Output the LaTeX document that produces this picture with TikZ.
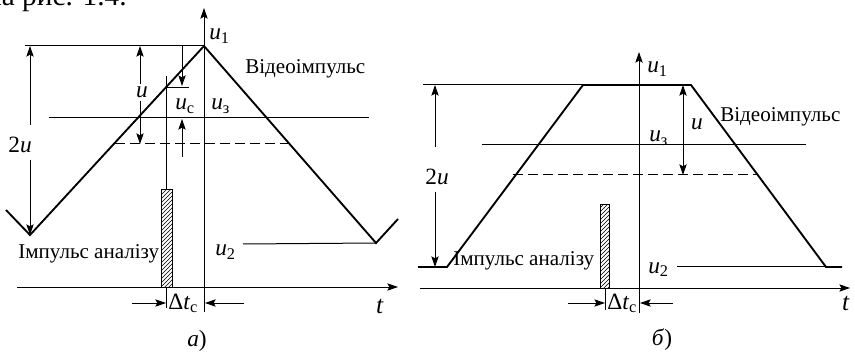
\documentclass[tikz,border=0pt]{standalone}
\usepackage{fontspec}
\setmainfont{Liberation Serif}
\usetikzlibrary{arrows.meta,patterns}
\newcommand\vr[2]{\textit{#1}\textsubscript{#2}}
\begin{document}
\begin{tikzpicture}[x=0.75pt,y=-0.75pt,
  wave/.style={line width=1.4pt,line join=miter},
  ln/.style={line width=0.75pt},
  arr/.style={ln,-{Stealth[length=8pt,width=5.5pt,inset=1.5pt]}},
  darr/.style={ln,{Stealth[length=8pt,width=5.5pt,inset=1.5pt]}-{Stealth[length=8pt,width=5.5pt,inset=1.5pt]}},
  dsh/.style={ln,dash pattern=on 7.5pt off 3.75pt},
  txt/.style={inner sep=0pt,font=\fontsize{15.8}{17}\selectfont},
  var/.style={inner sep=0pt,font=\fontsize{17.5}{19}\selectfont},
  hatch/.style={ln,pattern=north east lines}]
\useasboundingbox (0,0) rectangle (855,352);
\node[inner sep=0pt,font=\fontsize{22}{24}\selectfont,anchor=base east] (top) at (127,6) {на рис. 1.4.};

% ---------------- panel a ----------------
\coordinate (aVb) at (204,312);
\coordinate (aVt) at (204,8);
\coordinate (aHl) at (17,287);
\coordinate (aHr) at (398,287);
\draw[arr] (aVb) -- (aVt);
\draw[arr] (aHl) -- (aHr);
\coordinate (aW0) at (6,210);
\coordinate (aW1) at (30,235);
\coordinate (aW2) at (204,46);
\coordinate (aW3) at (376,243);
\coordinate (aW4) at (398,219);
\draw[wave] (aW0) -- (aW1) -- (aW2) -- (aW3) -- (aW4);
\coordinate (aTop) at (25,46);
\draw[ln] (aTop) -- (aW2);
\coordinate (aU3l) at (49,118);
\coordinate (aU3r) at (369,118);
\draw[ln] (aU3l) -- (aU3r);
\coordinate (aDl) at (115,144);
\coordinate (aDr) at (288,144);
\draw[dsh] (aDl) -- (aDr);
\coordinate (aU2l) at (243,244);
\draw[ln] (aU2l) -- (aW3);
% 2u
\node[var] (a2u) at (20,145) {2\textit{u}};
\draw[arr] (30,125) -- (30,46);
\draw[arr] (30,160) -- (30,235);
% u
\node[var] (au) at (142,92) {\textit{u}};
\draw[arr] (140,84) -- (140,46);
\draw[arr] (140,101) -- (140,144);
% u_c
\draw[arr] (182,46) -- (182,86);
\draw[ln] (166,88) -- (189,88);
\draw[arr] (182,157) -- (182,119);
\node[var,anchor=base west] (auc) at (175,110) {\vr{u}{c}};
% analysis pulse
\draw[hatch] (161,190) rectangle (172,287);
\draw[ln] (166,76) -- (166,190);
% delta t
\draw[ln] (166,287) -- (166,308);
\draw[arr] (132,303) -- (166,303);
\draw[arr] (244,303) -- (205,303);
\node[var,anchor=base west] (adt) at (168,309) {Δ\textit{t}\textsubscript{c}};
% labels
\node[var,anchor=base west] (au1) at (209,40) {\vr{u}{1}};
\node[var,anchor=base west] (au3) at (211,110) {\vr{u}{з}};
\node[var,anchor=base west] (au2) at (215,256) {\vr{u}{2}};
\node[txt,anchor=base west] (avid) at (245,74) {Відеоімпульс};
\node[txt,anchor=base west] (aimp) at (18,258) {Імпульс аналізу};
\node[inner sep=0pt,font=\fontsize{19}{21}\selectfont] (at) at (380,306) {\textit{t}};
\node[var,anchor=base] (acap) at (197,346) {\textit{а})};

% ---------------- panel b ----------------
\coordinate (bVb) at (639,313);
\coordinate (bVt) at (639,52);
\coordinate (bHl) at (420,288);
\coordinate (bHr) at (850,288);
\draw[arr] (bVb) -- (bVt);
\draw[arr] (bHl) -- (bHr);
\coordinate (bW0) at (418,267);
\coordinate (bW1) at (447,267);
\coordinate (bW2) at (583,85);
\coordinate (bW3) at (691,85);
\coordinate (bW4) at (826,267);
\coordinate (bW5) at (842,267);
\draw[wave] (bW0) -- (bW1) -- (bW2) -- (bW3) -- (bW4) -- (bW5);
\coordinate (bTop) at (423,85);
\draw[ln] (bTop) -- (bW2);
\coordinate (bU3l) at (482,145);
\coordinate (bU3r) at (806,145);
\draw[ln] (bU3l) -- (bU3r);
\coordinate (bDl) at (513,175);
\coordinate (bDr) at (758,175);
\draw[dsh] (bDl) -- (bDr);
\coordinate (bU2l) at (677,267);
\draw[ln] (bU2l) -- (bW4);
% 2u
\node[var] (b2u) at (437,177) {2\textit{u}};
\draw[arr] (435,147) -- (435,85);
\draw[arr] (435,192) -- (435,267);
% u
\draw[darr] (683,85) -- (683,175);
\node[var] (bu) at (697,124) {\textit{u}};
% analysis pulse
\draw[hatch] (600,205) rectangle (609,288);
% delta t
\draw[ln] (605,288) -- (605,310);
\draw[arr] (568,303) -- (605,303);
\draw[arr] (673,303) -- (640,303);
\node[var,anchor=base west] (bdt) at (607,309) {Δ\textit{t}\textsubscript{c}};
% labels
\node[var,anchor=base west] (bu1) at (647,73) {\vr{u}{1}};
\node[var,anchor=base west] (bu3) at (649,142) {\vr{u}{з}};
\node[var,anchor=base west] (bu2) at (648,273) {\vr{u}{2}};
\node[txt,anchor=base west] (bvid) at (720,122) {Відеоімпульс};
\node[txt,anchor=base west] (bimp) at (453,266) {Імпульс аналізу};
\node[inner sep=0pt,font=\fontsize{19}{21}\selectfont] (bt) at (846,303) {\textit{t}};
\node[var,anchor=base] (bcap) at (662,345) {\textit{б})};
\end{tikzpicture}
\end{document}
